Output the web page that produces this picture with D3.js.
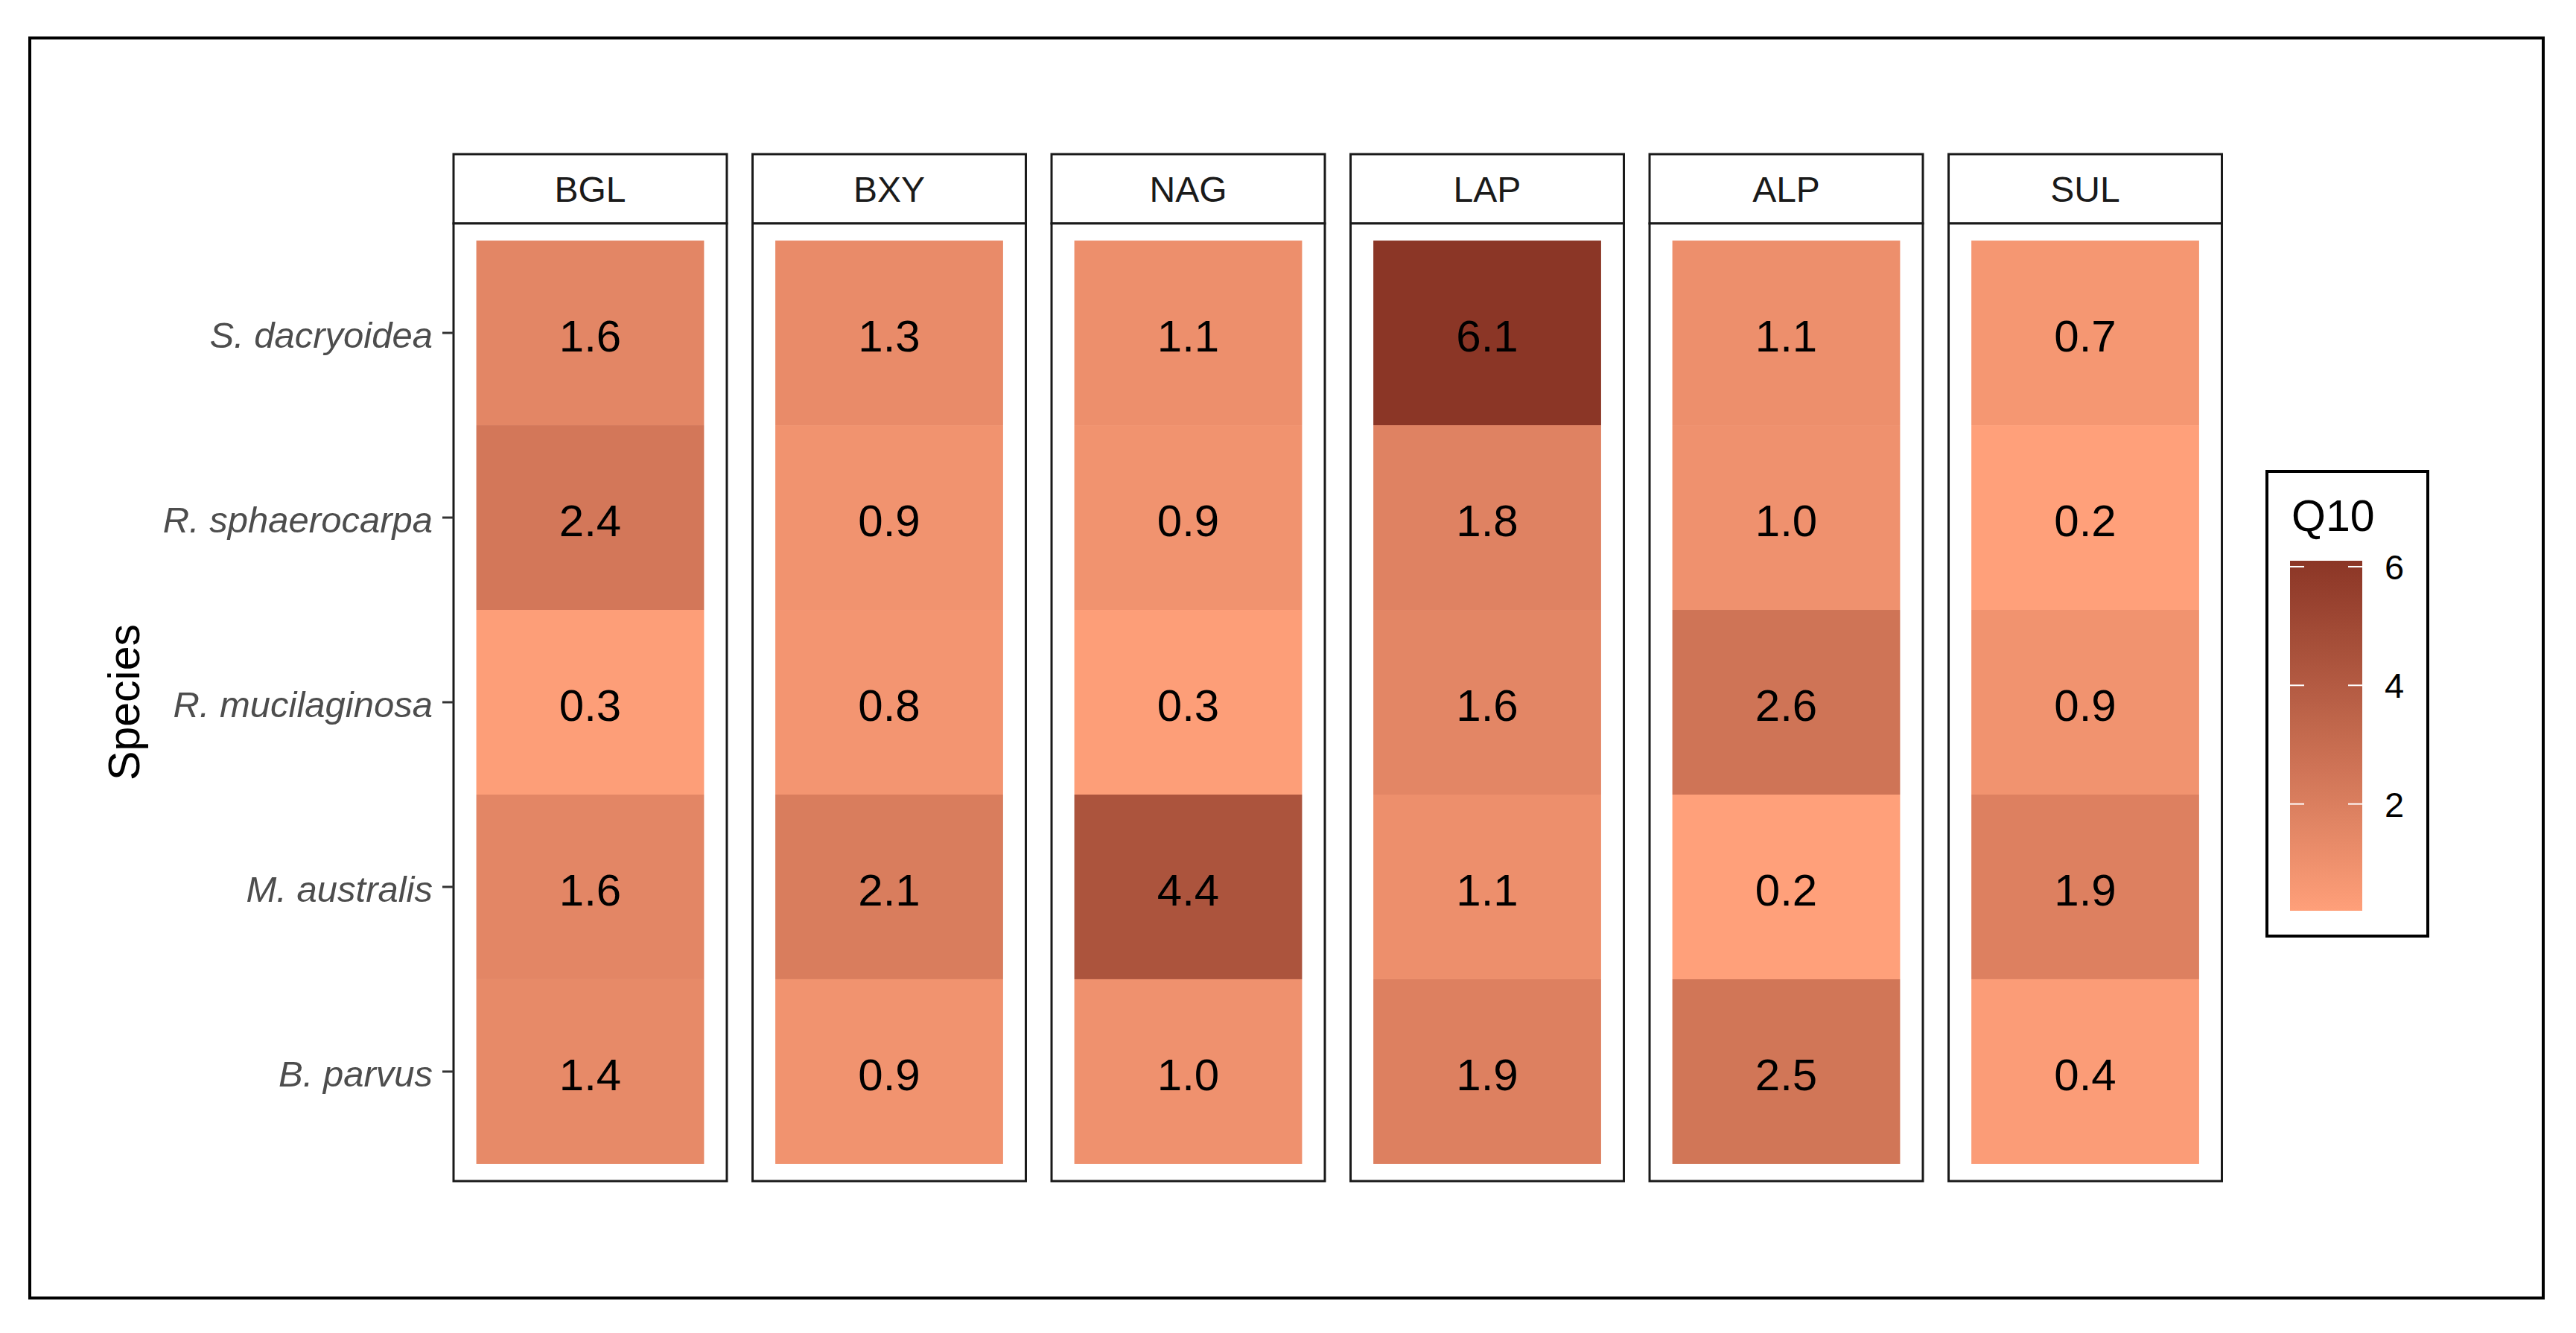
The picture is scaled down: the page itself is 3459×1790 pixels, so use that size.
<!DOCTYPE html>
<html>
<head>
<meta charset="utf-8">
<script src="https://cdn.jsdelivr.net/npm/d3@7"></script>
<style>
  body { margin: 0; background: #fff; }
  text { font-family: "Liberation Sans", Arial, sans-serif; }
</style>
</head>
<body>
<div id="chart"></div>
<script>
// enzymes (facets) and species (rows, top to bottom)
const enzymes = ["BGL", "BXY", "NAG", "LAP", "ALP", "SUL"];
const species = ["S. dacryoidea", "R. sphaerocarpa", "R. mucilaginosa", "M. australis", "B. parvus"];

// Q10 values, one array per enzyme, in species order
const BGL = [1.6, 2.4, 0.3, 1.6, 1.4];
const BXY = [1.3, 0.9, 0.8, 2.1, 0.9];
const NAG = [1.1, 0.9, 0.3, 4.4, 1.0];
const LAP = [6.1, 1.8, 1.6, 1.1, 1.9];
const ALP = [1.1, 1.0, 2.6, 0.2, 2.5];
const SUL = [0.7, 0.2, 0.9, 1.9, 0.4];
const values = {BGL, BXY, NAG, LAP, ALP, SUL};

const legendTicks = [2, 4, 6];

const W = 3459, H = 1790;

let svg = d3.select("#chart").append("svg")
    .attr("width", W)
    .attr("height", H);

// outer frame
svg.append("rect")
    .attr("x", 40).attr("y", 51)
    .attr("width", 3375).attr("height", 1692)
    .attr("fill", "#fff")
    .attr("stroke", "#000")
    .attr("stroke-width", 4);

let cells = [];
enzymes.forEach(function (e) {
    values[e].forEach(function (v, i) {
        cells.push({enzyme: e, species: species[i], value: v});
    });
});

let allVals = cells.map(d => d.value);
let color = d3.scaleLinear()
    .domain([d3.min(allVals), d3.max(allVals)])
    .range(["#FFA07A", "#8B3626"])
    .interpolate(d3.interpolateLab);

let stripTop = 207, panelTop = 300, panelBottom = 1586;

let xFacet = d3.scaleBand()
    .domain(enzymes)
    .range([609, 2983.5])
    .paddingInner(0.086)
    .paddingOuter(0);

let pw = xFacet.bandwidth();

let xTile = d3.scaleBand()
    .domain(["x"])
    .range([0, pw])
    .paddingOuter(0.1);

let y = d3.scaleBand()
    .domain(species)
    .range([panelTop, panelBottom])
    .paddingInner(0)
    .paddingOuter(0.093);

let facets = svg.selectAll(".facet")
    .data(enzymes)
    .enter()
    .append("g")
    .attr("class", "facet")
    .attr("transform", d => `translate(${xFacet(d)},0)`);

// strip
facets.append("rect")
    .attr("x", 0).attr("y", stripTop)
    .attr("width", pw).attr("height", panelTop - stripTop)
    .attr("fill", "#fff")
    .attr("stroke", "#1a1a1a")
    .attr("stroke-width", 3);

facets.append("text")
    .attr("x", pw / 2)
    .attr("y", (stripTop + panelTop) / 2)
    .attr("dy", "0.36em")
    .attr("text-anchor", "middle")
    .attr("font-size", 48)
    .attr("fill", "#1a1a1a")
    .text(d => d);

// panel background
facets.append("rect")
    .attr("x", 0).attr("y", panelTop)
    .attr("width", pw).attr("height", panelBottom - panelTop)
    .attr("fill", "#fff");

facets.selectAll(".tile")
    .data(e => cells.filter(c => c.enzyme === e))
    .enter()
    .append("rect")
    .attr("class", "tile")
    .attr("x", xTile("x"))
    .attr("y", d => y(d.species))
    .attr("width", xTile.bandwidth())
    .attr("height", y.bandwidth())
    .attr("fill", d => color(d.value));

facets.selectAll(".lab")
    .data(e => cells.filter(c => c.enzyme === e))
    .enter()
    .append("text")
    .attr("class", "lab")
    .attr("x", pw / 2)
    .attr("y", d => y(d.species) + y.bandwidth() / 2)
    .attr("dy", "0.42em")
    .attr("text-anchor", "middle")
    .attr("font-size", 60)
    .attr("fill", "#000")
    .text(d => d3.format(".1f")(d.value));

// panel border
facets.append("rect")
    .attr("x", 0).attr("y", panelTop)
    .attr("width", pw).attr("height", panelBottom - panelTop)
    .attr("fill", "none")
    .attr("stroke", "#1a1a1a")
    .attr("stroke-width", 3);

// y axis on first panel
let yAxis = d3.axisLeft(y).tickSize(15).tickPadding(13);
let yg = svg.append("g")
    .attr("transform", `translate(${xFacet(enzymes[0])},0)`)
    .call(yAxis);
yg.select(".domain").remove();
yg.selectAll(".tick line").attr("stroke", "#333").attr("stroke-width", 3);
yg.selectAll(".tick text")
    .attr("font-size", 49)
    .attr("dy", "0.4em")
    .attr("font-style", "italic")
    .attr("fill", "#4d4d4d")
    .attr("font-family", "Liberation Sans, Arial, sans-serif");

svg.append("text")
    .attr("transform", `translate(187,${(panelTop + panelBottom) / 2}) rotate(-90)`)
    .attr("text-anchor", "middle")
    .attr("font-size", 59)
    .attr("fill", "#000")
    .text("Species");

// legend
let lg = svg.append("g");
lg.append("rect")
    .attr("x", 3044).attr("y", 633)
    .attr("width", 216).attr("height", 624)
    .attr("fill", "#fff")
    .attr("stroke", "#000")
    .attr("stroke-width", 4);

lg.append("text")
    .attr("x", 3077).attr("y", 713)
    .attr("font-size", 59)
    .attr("fill", "#000")
    .text("Q10");

let barX = 3075, barW = 97;
let ly = d3.scaleLinear()
    .domain(color.domain())
    .range([1223, 753]);

let defs = svg.append("defs");
let grad = defs.append("linearGradient")
    .attr("id", "q10grad")
    .attr("x1", 0).attr("y1", 1).attr("x2", 0).attr("y2", 0);
d3.range(0, 1.0001, 0.05).forEach(function (t) {
    let v = color.domain()[0] + t * (color.domain()[1] - color.domain()[0]);
    grad.append("stop")
        .attr("offset", t)
        .attr("stop-color", color(v));
});

lg.append("rect")
    .attr("x", barX).attr("y", ly.range()[1])
    .attr("width", barW).attr("height", ly.range()[0] - ly.range()[1])
    .attr("fill", "url(#q10grad)");

lg.selectAll(".ltick")
    .data(legendTicks)
    .enter()
    .append("g")
    .each(function (d) {
        let g = d3.select(this);
        g.append("line")
            .attr("x1", barX).attr("x2", barX + 19)
            .attr("y1", ly(d)).attr("y2", ly(d))
            .attr("stroke", "#fff").attr("stroke-width", 2);
        g.append("line")
            .attr("x1", barX + barW - 19).attr("x2", barX + barW)
            .attr("y1", ly(d)).attr("y2", ly(d))
            .attr("stroke", "#fff").attr("stroke-width", 2);
        g.append("text")
            .attr("x", barX + barW + 30)
            .attr("y", ly(d))
            .attr("dy", "0.36em")
            .attr("font-size", 47)
            .attr("fill", "#000")
            .text(d);
    });
</script>
</body>
</html>
